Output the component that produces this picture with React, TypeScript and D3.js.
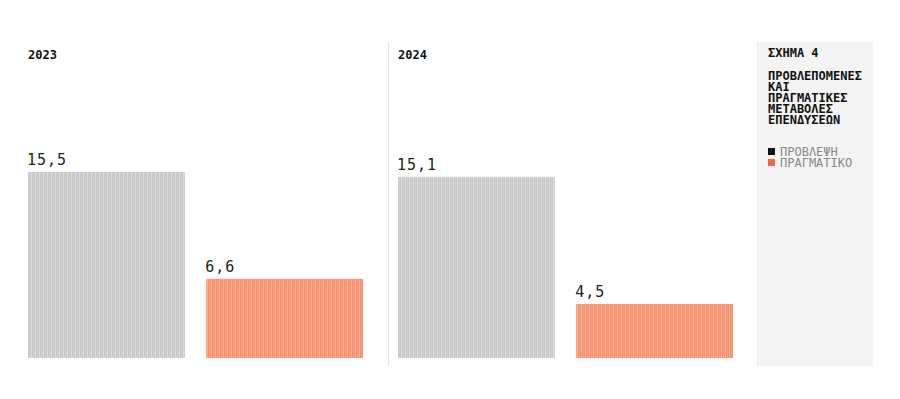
import React from "react";
import * as d3 from "d3";

const years = ["2023", "2024"];
const series = ["ΠΡΟΒΛΕΨΗ", "ΠΡΑΓΜΑΤΙΚΟ"];
const forecast = [15.5, 15.1];
const actual = [6.6, 4.5];
const titleLines = ["ΠΡΟΒΛΕΠΟΜΕΝΕΣ", "ΚΑΙ", "ΠΡΑΓΜΑΤΙΚΕΣ", "ΜΕΤΑΒΟΛΕΣ", "ΕΠΕΝΔΥΣΕΩΝ"];
const figureLabel = "ΣΧΗΜΑ 4";

const W = 900;
const H = 399;
const mono = "'DejaVu Sans Mono', 'Liberation Mono', monospace";
const colors = ["#c8c8c8", "#f8906f"];
const stripe = ["#e2e2e2", "#fbb9a2"];
const legendColors = ["#111111", "#f26a45"];

const fmt = (v: number) => v.toFixed(1).replace(".", ",");

export default function App() {
  const bottom = 358;
  const y = d3.scaleLinear().domain([0, 15.5]).range([bottom, 172]);
  const panelX = d3.scaleOrdinal<string, number>().domain(years).range([28, 398]);
  const barX = d3.scaleBand().domain(series).range([0, 335]).paddingInner(0.12);

  return (
    <svg width={W} height={H} style={{ position: "absolute", left: 0, top: 0, background: "#fff" }}>
      <defs>
        {colors.map((c, i) => (
          <pattern key={i} id={`stripe${i}`} width={4} height={10} patternUnits="userSpaceOnUse">
            <rect width={4} height={10} fill={c} />
            <rect x={3} width={0.8} height={10} fill={stripe[i]} />
            <rect x={1.2} width={0.5} height={10} fill={stripe[i]} opacity={0.6} />
          </pattern>
        ))}
      </defs>
      <rect x={0} y={0} width={W} height={H} fill="#fff" />
      <line x1={388.5} x2={388.5} y1={42} y2={366} stroke="#e4e4e4" strokeWidth={1} />
      {years.map((yr, i) => {
        const px = panelX(yr);
        const vals = [forecast[i], actual[i]];
        return (
          <g key={yr} transform={`translate(${px},0)`}>
            <text x={0} y={59} fontFamily={mono} fontSize={12} fontWeight="bold" fill="#111">
              {yr}
            </text>
            {series.map((s, j) => {
              const bx = barX(s) as number;
              const top = y(vals[j]);
              return (
                <g key={s}>
                  <rect
                    x={bx}
                    y={top}
                    width={barX.bandwidth()}
                    height={bottom - top}
                    fill={`url(#stripe${j})`}
                  />
                  <text
                    x={bx - 1}
                    y={top - 7}
                    fontFamily={mono}
                    fontSize={15}
                    letterSpacing={1}
                    fill="#222"
                  >
                    {fmt(vals[j])}
                  </text>
                </g>
              );
            })}
          </g>
        );
      })}
      <rect x={757} y={42} width={116} height={324} fill="#f4f4f4" />
      <line x1={757.5} x2={757.5} y1={42} y2={366} stroke="#ebebeb" />
      <text x={768} y={57} fontFamily={mono} fontSize={12} fontWeight="bold" fill="#111">
        {figureLabel}
      </text>
      {/* multi-line title as one text block */}
      <text x={768} y={79.5} fontFamily={mono} fontSize={12} fontWeight="bold" fill="#111">
        {titleLines.map((t, i) => (
          <tspan key={t} x={768} dy={i === 0 ? 0 : 11}>
            {t}
          </tspan>
        ))}
      </text>
      {/* legend */}
      {series.map((s, i) => (
        <rect key={s} x={768} y={148 + i * 11} width={7} height={7} fill={legendColors[i]} />
      ))}
      <text x={780} y={156} fontFamily={mono} fontSize={12} fill="#888">
        {series.map((s, i) => (
          <tspan key={s} x={780} dy={i === 0 ? 0 : 11}>
            {s}
          </tspan>
        ))}
      </text>
    </svg>
  );
}
